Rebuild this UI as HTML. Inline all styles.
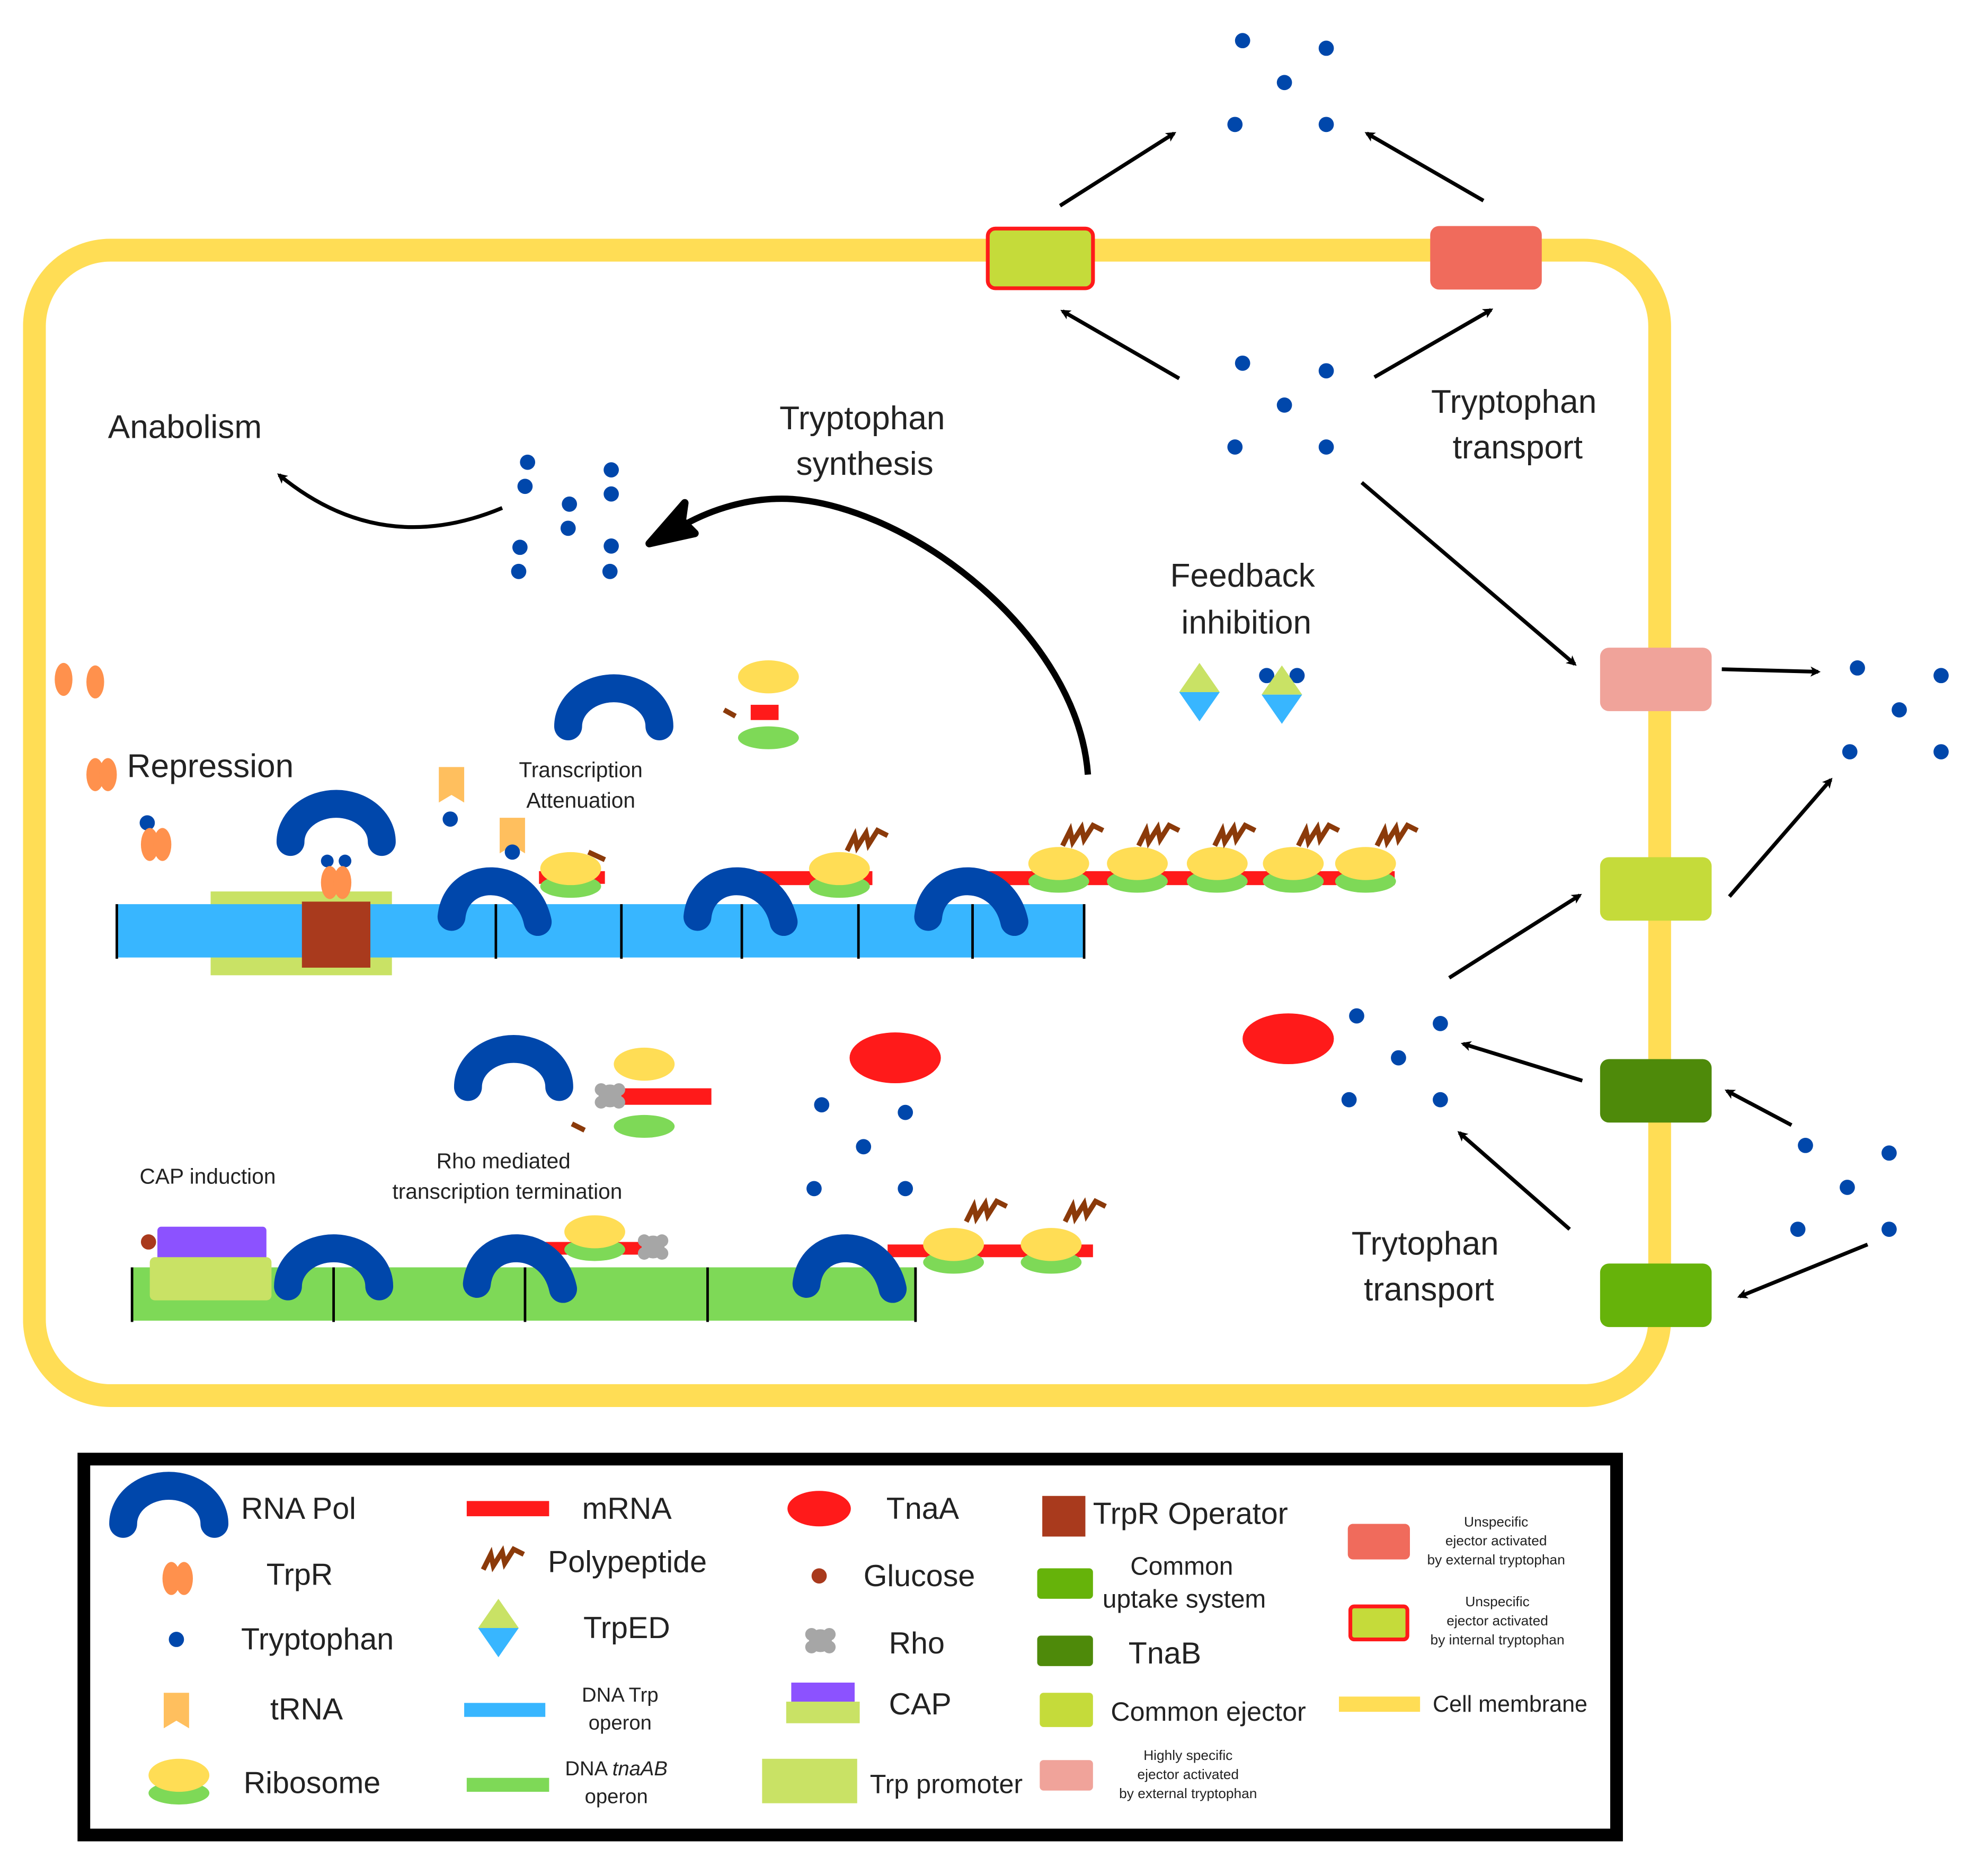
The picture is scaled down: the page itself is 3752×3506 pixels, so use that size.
<!DOCTYPE html>
<html><head><meta charset="utf-8"><style>
html,body{margin:0;padding:0;background:#fff;}
svg{display:block;}
text{font-family:"Liberation Sans",sans-serif;fill:#222;}
</style></head><body>
<svg width="3752" height="3506" viewBox="0 0 1560 1458" xmlns="http://www.w3.org/2000/svg">
<defs>
<marker id="ah" markerWidth="8" markerHeight="8" refX="6" refY="4" orient="auto" markerUnits="userSpaceOnUse">
<path d="M0,0 L8,4 L0,8 L2,4 Z" fill="#000"/></marker>
<clipPath id="cc"><rect x="18" y="0" width="1400" height="1200"/></clipPath>
<g id="pol"><path d="M-36,0 A36,30 0 0 1 36,0" fill="none" stroke="#0047AB" stroke-width="22" stroke-linecap="round"/></g>
<g id="polt"><path d="M-34,0 C-30,-38 25,-38 34,4" fill="none" stroke="#0047AB" stroke-width="22" stroke-linecap="round"/></g>
<g id="rib"><ellipse cx="0" cy="14" rx="24" ry="9" fill="#7ED957"/><ellipse cx="0" cy="0" rx="24" ry="13" fill="#FFDD55"/></g>
<g id="pp"><path d="M0,12 L6,0 L8,9 L15,-2 L17,7 L24,-4 L32,0" fill="none" stroke="#8B3A0A" stroke-width="4"/></g>
<g id="trpr"><ellipse cx="-5" cy="0" rx="7" ry="13" fill="#FF914D"/><ellipse cx="5" cy="0" rx="7" ry="13" fill="#FF914D"/></g>
<g id="rho"><circle r="9" fill="#A6A6A6"/><circle cx="-7" cy="-5" r="5" fill="#A6A6A6"/><circle cx="7" cy="-5" r="5" fill="#A6A6A6"/><circle cx="-7" cy="5" r="5" fill="#A6A6A6"/><circle cx="7" cy="5" r="5" fill="#A6A6A6"/></g>
<g id="tr"><path d="M-10,-14 L10,-14 L10,14 L0,8 L-10,14 Z" fill="#FFBF5E"/></g>
<g id="ted"><path d="M-16,0 L0,-23 L16,0 Z" fill="#C9E265"/><path d="M-16,0 L0,23 L16,0 Z" fill="#38B6FF"/></g>
<g id="d5"><circle cx="0" cy="0" r="6" fill="#0047AB"/><circle cx="66" cy="6" r="6" fill="#0047AB"/><circle cx="33" cy="33" r="6" fill="#0047AB"/><circle cx="-6" cy="66" r="6" fill="#0047AB"/><circle cx="66" cy="66" r="6" fill="#0047AB"/></g>
</defs>
<g transform="scale(0.995,0.9965)">

<!-- cell -->
<rect x="27" y="197" width="1282" height="902" rx="60" fill="none" stroke="#FFDD55" stroke-width="18" clip-path="url(#cc)"/>

<!-- transporters -->
<rect x="779" y="180" width="83" height="47" rx="6" fill="#C5DB3A" stroke="#FF1A1A" stroke-width="3"/>
<rect x="1128" y="178" width="88" height="50" rx="7" fill="#F06B5C"/>
<rect x="1262" y="510" width="88" height="50" rx="7" fill="#F0A39A"/>
<rect x="1262" y="675" width="88" height="50" rx="7" fill="#C5DB3A"/>
<rect x="1262" y="834" width="88" height="50" rx="7" fill="#4E8A0A"/>
<rect x="1262" y="995" width="88" height="50" rx="7" fill="#66B30A"/>

<!-- dots -->
<use href="#d5" x="980" y="32"/>
<use href="#d5" x="980" y="286"/>
<use href="#d5" x="1465" y="526"/>
<use href="#d5" x="1070" y="800"/>
<use href="#d5" x="1424" y="902"/>
<use href="#d5" x="648" y="870"/>
<g fill="#0047AB">
<circle cx="416" cy="364" r="6"/><circle cx="482" cy="370" r="6"/><circle cx="414" cy="383" r="6"/><circle cx="449" cy="397" r="6"/><circle cx="482" cy="389" r="6"/><circle cx="448" cy="416" r="6"/><circle cx="410" cy="431" r="6"/><circle cx="482" cy="430" r="6"/><circle cx="409" cy="450" r="6"/><circle cx="481" cy="450" r="6"/>
</g>

<!-- arrows -->
<g stroke="#000" stroke-width="3" fill="none" marker-end="url(#ah)">
<line x1="836" y1="162" x2="926" y2="105"/>
<line x1="1170" y1="158" x2="1078" y2="105"/>
<line x1="930" y1="298" x2="838" y2="245"/>
<line x1="1084" y1="297" x2="1176" y2="244"/>
<line x1="1074" y1="380" x2="1242" y2="523"/>
<line x1="1358" y1="527" x2="1434" y2="529"/>
<line x1="1364" y1="706" x2="1444" y2="614"/>
<line x1="1143" y1="770" x2="1246" y2="705"/>
<line x1="1248" y1="851" x2="1154" y2="822"/>
<line x1="1413" y1="886" x2="1362" y2="859"/>
<line x1="1238" y1="968" x2="1151" y2="892"/>
<line x1="1473" y1="980" x2="1372" y2="1021"/>
<path d="M396,400 Q300,440 220,374"/>
</g>
<path d="M858,610 C850,500 720,400 625,393 C590,391 560,402 540,413" fill="none" stroke="#000" stroke-width="5"/>
<path d="M538,410 L540,396 L512,428 L548,420 Z" fill="#000" stroke="#000" stroke-width="6" stroke-linejoin="round"/>

<!-- labels -->
<text x="85" y="345" font-size="26">Anabolism</text>
<text x="680" y="338" font-size="26" text-anchor="middle">Tryptophan</text>
<text x="682" y="374" font-size="26" text-anchor="middle">synthesis</text>
<text x="1194" y="325" font-size="26" text-anchor="middle">Tryptophan</text>
<text x="1197" y="361" font-size="26" text-anchor="middle">transport</text>
<text x="980" y="462" font-size="26" text-anchor="middle">Feedback</text>
<text x="983" y="499" font-size="26" text-anchor="middle">inhibition</text>
<text x="1124" y="988" font-size="26" text-anchor="middle">Trytophan</text>
<text x="1127" y="1024" font-size="26" text-anchor="middle">transport</text>
<text x="100" y="612" font-size="26">Repression</text>
<text x="458" y="612" font-size="17" text-anchor="middle">Transcription</text>
<text x="458" y="636" font-size="17" text-anchor="middle">Attenuation</text>
<text x="110" y="932" font-size="17">CAP induction</text>
<text x="397" y="920" font-size="17" text-anchor="middle">Rho mediated</text>
<text x="400" y="944" font-size="17" text-anchor="middle">transcription termination</text>

<!-- feedback -->
<use href="#ted" x="946" y="545"/>
<circle cx="999" cy="532" r="6" fill="#0047AB"/><circle cx="1023" cy="532" r="6" fill="#0047AB"/>
<use href="#ted" x="1011" y="547"/>

<!-- trp operon -->
<rect x="166" y="702" width="143" height="66" fill="#C9E265"/>
<rect x="92" y="712" width="764" height="42" fill="#38B6FF"/>
<rect x="238" y="710" width="54" height="52" fill="#A93A1D"/>
<g stroke="#000" stroke-width="2">
<line x1="92" y1="712" x2="92" y2="755"/><line x1="391" y1="712" x2="391" y2="755"/><line x1="490" y1="712" x2="490" y2="755"/><line x1="585" y1="712" x2="585" y2="755"/><line x1="677" y1="712" x2="677" y2="755"/><line x1="767" y1="712" x2="767" y2="755"/><line x1="855" y1="712" x2="855" y2="755"/>
</g>
<rect x="425" y="686" width="52" height="10" fill="#FF1A1A"/>
<rect x="585" y="686" width="103" height="11" fill="#FF1A1A"/>
<rect x="770" y="686" width="330" height="11" fill="#FF1A1A"/>
<use href="#polt" x="390" y="722"/>
<use href="#polt" x="584" y="722"/>
<use href="#polt" x="766" y="722"/>
<use href="#rib" x="450" y="684"/>
<use href="#rib" x="662" y="684"/>
<use href="#rib" x="835" y="680"/><use href="#rib" x="897" y="680"/><use href="#rib" x="960" y="680"/><use href="#rib" x="1020" y="680"/><use href="#rib" x="1077" y="680"/>
<use href="#pp" x="668" y="658"/>
<use href="#pp" x="838" y="654"/><use href="#pp" x="898" y="654"/><use href="#pp" x="958" y="654"/><use href="#pp" x="1024" y="654"/><use href="#pp" x="1086" y="654"/>
<line x1="464" y1="671" x2="477" y2="677" stroke="#8B3A0A" stroke-width="4"/>
<use href="#pol" x="484" y="572"/>
<use href="#pol" x="265" y="663"/>
<ellipse cx="606" cy="533" rx="24" ry="13" fill="#FFDD55"/>
<rect x="592" y="555" width="22" height="12" fill="#FF1A1A"/>
<ellipse cx="606" cy="581" rx="24" ry="9" fill="#7ED957"/>
<line x1="571" y1="559" x2="580" y2="564" stroke="#8B3A0A" stroke-width="4"/>
<use href="#tr" x="356" y="618"/>
<use href="#tr" x="404" y="658"/>
<circle cx="355" cy="645" r="6" fill="#0047AB"/>
<circle cx="404" cy="671" r="6" fill="#0047AB"/>
<circle cx="116" cy="648" r="6" fill="#0047AB"/>
<use href="#trpr" x="123" y="665"/>
<use href="#trpr" x="80" y="610"/>
<ellipse cx="50" cy="535" rx="7" ry="13" fill="#FF914D"/>
<ellipse cx="75" cy="537" rx="7" ry="13" fill="#FF914D"/>
<circle cx="258" cy="678" r="5" fill="#0047AB"/><circle cx="272" cy="678" r="5" fill="#0047AB"/>
<use href="#trpr" x="265" y="695"/>

<!-- tnaAB operon -->
<rect x="104" y="998" width="619" height="42" fill="#7ED957"/>
<g stroke="#000" stroke-width="2">
<line x1="104" y1="998" x2="104" y2="1041"/><line x1="263" y1="998" x2="263" y2="1041"/><line x1="414" y1="998" x2="414" y2="1041"/><line x1="558" y1="998" x2="558" y2="1041"/><line x1="722" y1="998" x2="722" y2="1041"/>
</g>
<rect x="124" y="966" width="86" height="27" rx="3" fill="#8C52FF"/>
<rect x="118" y="990" width="96" height="34" rx="4" fill="#C9E265"/>
<circle cx="117" cy="978" r="6" fill="#A93A1D"/>
<rect x="430" y="978" width="85" height="10" fill="#FF1A1A"/>
<rect x="700" y="980" width="162" height="10" fill="#FF1A1A"/>
<use href="#pol" x="263" y="1013"/>
<use href="#polt" x="410" y="1011"/>
<use href="#polt" x="670" y="1011"/>
<use href="#rib" x="469" y="970"/>
<use href="#rho" x="515" y="982"/>
<use href="#rib" x="752" y="980"/><use href="#rib" x="829" y="980"/>
<use href="#pp" x="762" y="950"/><use href="#pp" x="840" y="950"/>
<use href="#pol" x="405" y="856"/>
<ellipse cx="508" cy="838" rx="24" ry="13" fill="#FFDD55"/>
<rect x="480" y="857" width="81" height="13" fill="#FF1A1A"/>
<use href="#rho" x="481" y="863"/>
<ellipse cx="508" cy="887" rx="24" ry="9" fill="#7ED957"/>
<line x1="451" y1="885" x2="461" y2="890" stroke="#8B3A0A" stroke-width="4"/>
<ellipse cx="706" cy="833" rx="36" ry="20" fill="#FF1A1A"/>
<ellipse cx="1016" cy="818" rx="36" ry="20" fill="#FF1A1A"/>

<!-- legend -->
<rect x="66" y="1149" width="1209" height="296" fill="none" stroke="#000" stroke-width="10"/>
<g font-size="24">
<use href="#pol" x="133" y="1200"/><text x="190" y="1196">RNA Pol</text>
<use href="#trpr" x="140" y="1243"/><text x="210" y="1248">TrpR</text>
<circle cx="139" cy="1291" r="6" fill="#0047AB"/><text x="190" y="1299">Tryptophan</text>
<use href="#tr" x="139" y="1347"/><text x="213" y="1354">tRNA</text>
<use href="#rib" x="141" y="1398"/><text x="192" y="1412">Ribosome</text>
<rect x="368" y="1182" width="65" height="12" fill="#FF1A1A"/><text x="459" y="1196">mRNA</text>
<use href="#pp" x="381" y="1224"/><text x="432" y="1238">Polypeptide</text>
<use href="#ted" x="393" y="1282"/><text x="460" y="1290">TrpED</text>
<rect x="366" y="1341" width="64" height="11" fill="#38B6FF"/>
<rect x="368" y="1400" width="65" height="11" fill="#7ED957"/>
<ellipse cx="646" cy="1188" rx="25" ry="14" fill="#FF1A1A"/><text x="699" y="1196">TnaA</text>
<circle cx="646" cy="1241" r="6" fill="#A93A1D"/><text x="681" y="1249">Glucose</text>
<use href="#rho" x="647" y="1292"/><text x="701" y="1302">Rho</text>
<rect x="624" y="1325" width="50" height="15" fill="#8C52FF"/><rect x="620" y="1340" width="58" height="17" fill="#C9E265"/><text x="701" y="1350">CAP</text>
<rect x="601" y="1385" width="75" height="35" fill="#C9E265"/><text x="686" y="1412" font-size="21">Trp promoter</text>
<rect x="822" y="1178" width="34" height="32" fill="#A93A1D"/><text x="862" y="1200">TrpR Operator</text>
<rect x="818" y="1235" width="44" height="24" rx="3" fill="#66B30A"/>
<text x="932" y="1240" font-size="20" text-anchor="middle">Common</text>
<text x="934" y="1266" font-size="20" text-anchor="middle">uptake system</text>
<rect x="818" y="1288" width="44" height="24" rx="3" fill="#4E8A0A"/><text x="890" y="1310">TnaB</text>
<rect x="820" y="1333" width="42" height="27" rx="3" fill="#C5DB3A"/><text x="876" y="1355" font-size="21">Common ejector</text>
<rect x="820" y="1386" width="42" height="24" rx="3" fill="#F0A39A"/>
<rect x="1063" y="1200" width="49" height="28" rx="4" fill="#F06B5C"/>
<rect x="1065" y="1265" width="45" height="26" rx="3" fill="#C5DB3A" stroke="#FF1A1A" stroke-width="3"/>
<rect x="1056" y="1336" width="64" height="12" fill="#FFDD55"/><text x="1130" y="1348" font-size="18">Cell membrane</text>
</g>
<g font-size="16" text-anchor="middle">
<text x="489" y="1340">DNA Trp</text><text x="489" y="1362">operon</text>
<text x="486" y="1398">DNA <tspan font-style="italic">tnaAB</tspan></text><text x="486" y="1420">operon</text>
</g>
<g font-size="11" text-anchor="middle" fill="#444">
<text x="937" y="1386">Highly specific</text><text x="937" y="1401">ejector activated</text><text x="937" y="1416">by external tryptophan</text>
<text x="1180" y="1202">Unspecific</text><text x="1180" y="1217">ejector activated</text><text x="1180" y="1232">by external tryptophan</text>
<text x="1181" y="1265">Unspecific</text><text x="1181" y="1280">ejector activated</text><text x="1181" y="1295">by internal tryptophan</text>
</g>
</g>
</svg>
</body></html>
